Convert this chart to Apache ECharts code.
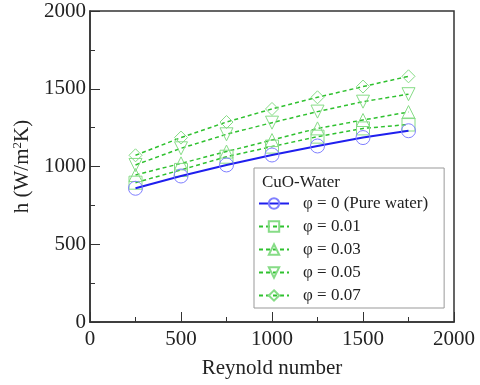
<!DOCTYPE html>
<html>
<head>
<meta charset="utf-8">
<title>CuO-Water h vs Re</title>
<script src="https://cdn.jsdelivr.net/npm/echarts@6/dist/echarts.min.js"></script>
<style>
  html, body { margin: 0; padding: 0; background: #fff; }
  #main { width: 480px; height: 385px; }
</style>
</head>
<body>
<div id="main"></div>
<script>
// Reynold number
var reynolds = [250, 500, 750, 1000, 1250, 1500, 1750];
// h (W/m2K) for each volume fraction
var hPure = [860, 939, 1010, 1074, 1132, 1186, 1230];
var h001 = [896, 978, 1063, 1128, 1192, 1245, 1270];
var h003 = [945, 1020, 1096, 1170, 1245, 1299, 1350];
var h005 = [1010, 1117, 1207, 1282, 1353, 1417, 1465];
var h007 = [1072, 1186, 1286, 1370, 1445, 1514, 1580];
var seriesNames = ['φ = 0 (Pure water)', 'φ = 0.01', 'φ = 0.03', 'φ = 0.05', 'φ = 0.07'];

function pairs(ys) {
    var out = [];
    for (var i = 0; i < reynolds.length; i++) out.push([reynolds[i], ys[i]]);
    return out;
}

var font = 'Liberation Serif';
var green = '#2fc12f';
var greenMark = '#86dc86';

function greenSeries(name, ys, symbol, rotate) {
    return {
        name: name,
        type: 'line',
        data: pairs(ys),
        symbol: symbol,
        symbolSize: 13,
        symbolRotate: rotate || 0,
        lineStyle: { color: green, width: 1.5, type: [4, 3] },
        itemStyle: { color: 'transparent', borderColor: greenMark, borderWidth: 1 }
    };
}

function plain(v) { return String(v); }

var myChart = echarts.init(document.getElementById('main'));
var option = {
    animation: false,
    backgroundColor: '#fff',
    title: {
        text: 'CuO-Water',
        left: 257,
        top: 169,
        textStyle: { fontFamily: font, fontSize: 17, fontWeight: 'normal', color: '#222' },
        z: 10
    },
    legend: {
        orient: 'vertical',
        left: 254,
        top: 168,
        padding: [27, 16, 4, 4],
        itemGap: 6,
        itemWidth: 30,
        itemHeight: 13,
        backgroundColor: '#fff',
        borderColor: '#999',
        borderWidth: 1,
        textStyle: { fontFamily: font, fontSize: 17, color: '#222', padding: [0, 0, 0, 9] },
        data: seriesNames
    },
    grid: {
        left: 90, right: 26, top: 11, bottom: 63,
        show: true, borderColor: '#333', borderWidth: 1.5
    },
    xAxis: {
        type: 'value',
        min: 0, max: 2000, interval: 500,
        name: 'Reynold number',
        nameLocation: 'middle',
        nameGap: 36,
        nameTextStyle: { fontFamily: font, fontSize: 21, color: '#222' },
        axisLine: { lineStyle: { color: '#333', width: 1.5 } },
        axisTick: { inside: true, length: 10, lineStyle: { color: '#333' } },
        minorTick: { show: true, splitNumber: 2, length: 5, lineStyle: { color: '#333' } },
        axisLabel: { fontFamily: font, fontSize: 21, color: '#222', margin: 7, formatter: plain },
        splitLine: { show: false }
    },
    yAxis: {
        type: 'value',
        min: 0, max: 2000, interval: 500,
        name: 'h (W/m{sup|2}K)',
        nameLocation: 'middle',
        nameGap: 48,
        nameTextStyle: {
            fontFamily: font, fontSize: 21, color: '#222',
            rich: { sup: { fontFamily: font, fontSize: 13, verticalAlign: 'top', padding: [0, 0, 10, 0], color: '#222' } }
        },
        axisLine: { lineStyle: { color: '#333', width: 1.5 } },
        axisTick: { inside: true, length: 10, lineStyle: { color: '#333' } },
        minorTick: { show: true, splitNumber: 2, length: 5, lineStyle: { color: '#333' } },
        axisLabel: { fontFamily: font, fontSize: 21, color: '#222', margin: 4, formatter: plain },
        splitLine: { show: false }
    },
    series: [
        {
            name: seriesNames[0],
            type: 'line',
            data: pairs(hPure),
            symbol: 'circle',
            symbolSize: 14,
            lineStyle: { color: '#1f1fee', width: 2 },
            itemStyle: { color: 'transparent', borderColor: '#8080ff', borderWidth: 1 },
            z: 5
        },
        greenSeries(seriesNames[1], h001, 'rect'),
        greenSeries(seriesNames[2], h003, 'triangle'),
        greenSeries(seriesNames[3], h005, 'triangle', 180),
        greenSeries(seriesNames[4], h007, 'diamond')
    ]
};
myChart.setOption(option);
</script>
</body>
</html>
